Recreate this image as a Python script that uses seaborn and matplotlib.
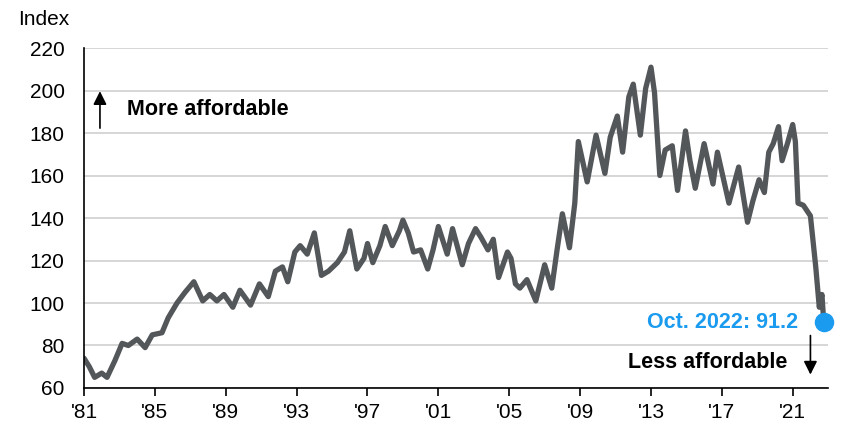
import pandas as pd
import matplotlib.pyplot as plt
import seaborn as sns

# values (decimal year, index)
years = [1981.0, 1981.3, 1981.6, 1982.0, 1982.3, 1982.75, 1983.15, 1983.5, 1984.0, 1984.45,
         1984.85, 1985.4, 1985.75, 1986.25, 1986.7, 1987.2, 1987.7, 1988.1, 1988.5, 1988.9,
         1989.4, 1989.8, 1990.4, 1990.9, 1991.4, 1991.8, 1992.2, 1992.5, 1992.9, 1993.2,
         1993.6, 1994.0, 1994.4, 1994.8, 1995.3, 1995.7, 1996.0, 1996.4, 1996.8, 1997.0,
         1997.3, 1997.7, 1998.0, 1998.4, 1998.8, 1999.0, 1999.3, 1999.6, 2000.0, 2000.4,
         2000.7, 2001.0, 2001.5, 2001.8, 2002.35, 2002.7, 2003.1, 2003.4, 2003.8, 2004.1,
         2004.4, 2004.9, 2005.1, 2005.35, 2005.6, 2006.0, 2006.5, 2007.0, 2007.4, 2007.7,
         2008.0, 2008.4, 2008.7, 2008.9, 2009.4, 2009.9, 2010.4, 2010.7, 2011.1, 2011.4,
         2011.75, 2012.0, 2012.4, 2012.7, 2013.0, 2013.2, 2013.5, 2013.8, 2014.2, 2014.5,
         2014.95, 2015.2, 2015.5, 2016.0, 2016.5, 2016.75, 2017.4, 2017.95, 2018.45, 2018.75,
         2019.1, 2019.4, 2019.65, 2019.9, 2020.2, 2020.4, 2020.7, 2021.0, 2021.15, 2021.3,
         2021.6, 2022.0, 2022.3, 2022.5, 2022.65, 2022.75]
index_values = [74, 70, 65, 67, 65, 73, 81, 80, 83, 79,
                85, 86, 93, 100, 105, 110, 101, 104, 101, 104,
                98, 106, 99, 109, 103, 115, 117, 110, 124, 127,
                123, 133, 113, 115, 119, 124, 134, 116, 121, 128,
                119, 127, 136, 127, 134, 139, 133, 124, 125, 116,
                125, 136, 123, 135, 118, 128, 135, 131, 125, 130,
                112, 124, 121, 109, 107, 111, 101, 118, 107, 125,
                142, 126, 147, 176, 157, 179, 161, 178, 188, 171,
                197, 203, 179, 201, 211, 199, 160, 172, 174, 153,
                181, 167, 154, 175, 156, 171, 147, 164, 138, 148,
                158, 152, 171, 175, 183, 167, 175, 184, 176, 147,
                146, 141, 117, 98, 104, 91.2]

tick_years = [1981, 1985, 1989, 1993, 1997, 2001, 2005, 2009, 2013, 2017, 2021]
tick_labels = ["'81", "'85", "'89", "'93", "'97", "'01", "'05", "'09", "'13", "'17", "'21"]

last_label = "Oct. 2022: 91.2"

df = pd.DataFrame({"year": years, "index": index_values})

sns.set_style("white")
plt.rcParams["font.family"] = ["Liberation Sans", "DejaVu Sans"]
plt.rcParams["text.color"] = "black"
plt.rcParams["xtick.color"] = "black"
plt.rcParams["ytick.color"] = "black"

fig = plt.figure(figsize=(8.52, 4.29), dpi=100)
ax = fig.add_axes([0.0986, 0.0956, 0.8734, 0.7924])

sns.lineplot(data=df, x="year", y="index", ax=ax, color="#54575a", linewidth=3.8)

blue = "#1a9bf0"
ax.scatter([years[-1]], [index_values[-1]], s=170, color=blue, zorder=5, clip_on=False)
ax.text(2021.3, 91, last_label, color=blue, fontsize=15.5,
        fontweight="bold", ha="right", va="center")

ax.set_xlim(1981, 2023)
ax.set_ylim(60, 220)
ax.set_yticks(range(60, 221, 20))
ax.set_xticks(tick_years)
ax.set_xticklabels(tick_labels)
ax.yaxis.grid(True, color="#d0d0d0", linewidth=1.2)
ax.set_axisbelow(True)
ax.set_xlabel("")
ax.set_ylabel("")

for side in ["top", "right"]:
    ax.spines[side].set_visible(False)
ax.spines["left"].set_color("black")
ax.spines["bottom"].set_color("black")
ax.spines["left"].set_linewidth(1.2)
ax.spines["bottom"].set_linewidth(1.2)
ax.tick_params(axis="x", length=6, width=1.2, direction="out", labelsize=15, pad=5,
               bottom=True, colors="black")
ax.tick_params(axis="y", length=0, labelsize=15, pad=14, colors="black")

fig.text(0.021, 0.955, "Index", fontsize=15, ha="left", va="center", color="black")

# more / less affordable annotations
ax.annotate("", xy=(1981.9, 201), xytext=(1981.9, 181),
            arrowprops=dict(arrowstyle="-|>", color="black", lw=1.2, mutation_scale=20))
ax.text(1983.4, 191, "More affordable", fontsize=15.5, fontweight="bold", va="center",
        ha="left", color="black")
ax.annotate("", xy=(2022.0, 65), xytext=(2022.0, 86),
            arrowprops=dict(arrowstyle="-|>", color="black", lw=1.2, mutation_scale=20))
ax.text(2020.7, 72, "Less affordable", fontsize=15.5, fontweight="bold", va="center",
        ha="right", color="black")

plt.savefig("out.png", dpi=100)
